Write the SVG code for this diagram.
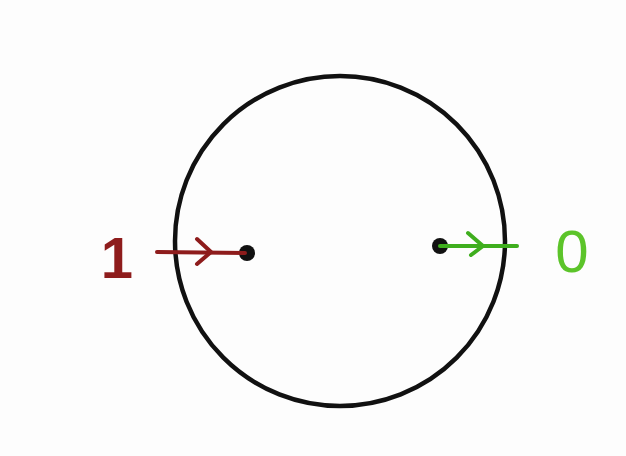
<svg xmlns="http://www.w3.org/2000/svg" width="626" height="456" viewBox="0 0 626 456">
<style>
.dot{fill:#111}
.red{stroke:#8e1c1c;fill:none;stroke-width:4;stroke-linecap:round;stroke-linejoin:round}
.grn{stroke:#3fae1e;fill:none;stroke-width:4;stroke-linecap:round;stroke-linejoin:round}
.lbl{font-family:"Liberation Sans",Arial,sans-serif;text-anchor:middle}
</style>
<rect width="626" height="456" fill="#fdfdfd"/>
<g id="circle">
<circle cx="340" cy="241" r="165" fill="none" stroke="#111" stroke-width="4.5"/>
</g>
<g id="node-in">
<circle class="dot" cx="247" cy="253" r="8"/>
</g>
<g id="node-out">
<circle class="dot" cx="440" cy="246" r="8"/>
</g>
<g id="label-1">
<text class="lbl" x="117" y="278" font-size="58" font-weight="bold" fill="#8e1c1c">1</text>
</g>
<g id="label-0">
<text class="lbl" x="572" y="272" font-size="60" fill="#5cc42a">0</text>
</g>
<g id="connectors">
<path class="red" d="M157 252 L245 253"/>
<path class="red" d="M197 239 L211 252 L197 264"/>
<path class="grn" d="M440 246 L517 246"/>
<path class="grn" d="M468 233 L483 246 L471 255"/>
</g>
</svg>
